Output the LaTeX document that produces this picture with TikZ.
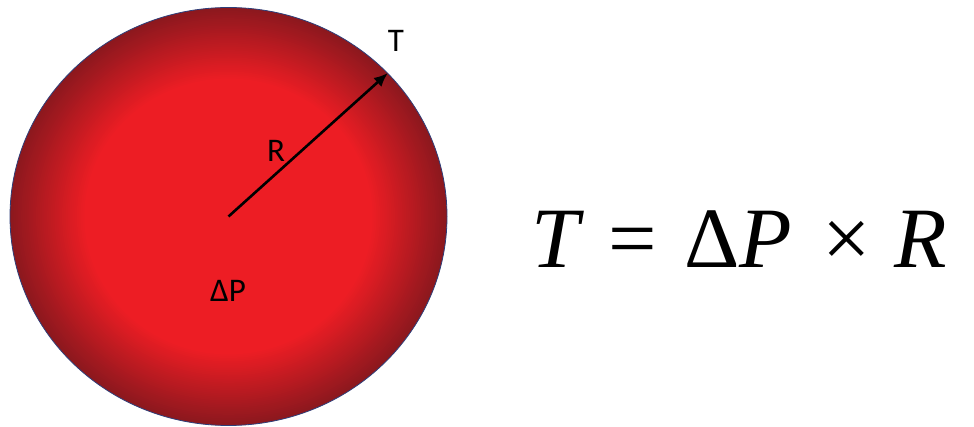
\documentclass[tikz,border=0pt]{standalone}
\usepackage{fontspec}
\setmainfont{Carlito}
\newfontfamily\eqfont{Liberation Serif}
\usetikzlibrary{arrows.meta,shapes.geometric}
\definecolor{bubinner}{RGB}{237,29,36}
\definecolor{bubouter}{RGB}{140,24,30}
\definecolor{bubedge}{HTML}{2E3F7A}
\tikzset{
  bubblebox/.style={ellipse, draw=bubedge, line width=0.8pt, minimum width=437pt, minimum height=418pt, inner sep=0pt},
  lbl/.style={font=\fontsize{33}{40}\selectfont, inner sep=0pt, anchor=base},
  radius arrow/.style={-{Latex[length=14pt,width=12pt]}, line width=2.6pt, black}
}

\begin{document}
\begin{tikzpicture}[x=1pt,y=-1pt]
    \useasboundingbox (0,0) rectangle (974,427);
    \node[bubblebox, fill=bubouter] (bub) at (228.5,216.5) {};
    % darker rim, bright middle
    \foreach \i in {1,...,40}{
      \pgfmathsetmacro{\f}{1-0.34*\i/40}
      \pgfmathtruncatemacro{\p}{100*\i/40}
      \fill[bubinner!\p!bubouter] (bub.center) ellipse [x radius=218.5*\f, y radius=209*\f];
    }
    \draw[radius arrow] (bub.center) -- (bub.42);

    \node[lbl] (tlabel) at (396,52) {T};
    \node[lbl] (rlabel) at (276,162) {R};
    \node[lbl] (plabel) at (228,302) {ΔP};

    \node[anchor=base west, inner sep=0pt, font=\eqfont\fontsize{86}{100}\selectfont] (eq) at (531,268) {\textit{T}\hspace{24pt}=\hspace{28pt}Δ\textit{P}\hspace{30pt}×\hspace{24pt}\textit{R}};
  \end{tikzpicture}
\end{document}
